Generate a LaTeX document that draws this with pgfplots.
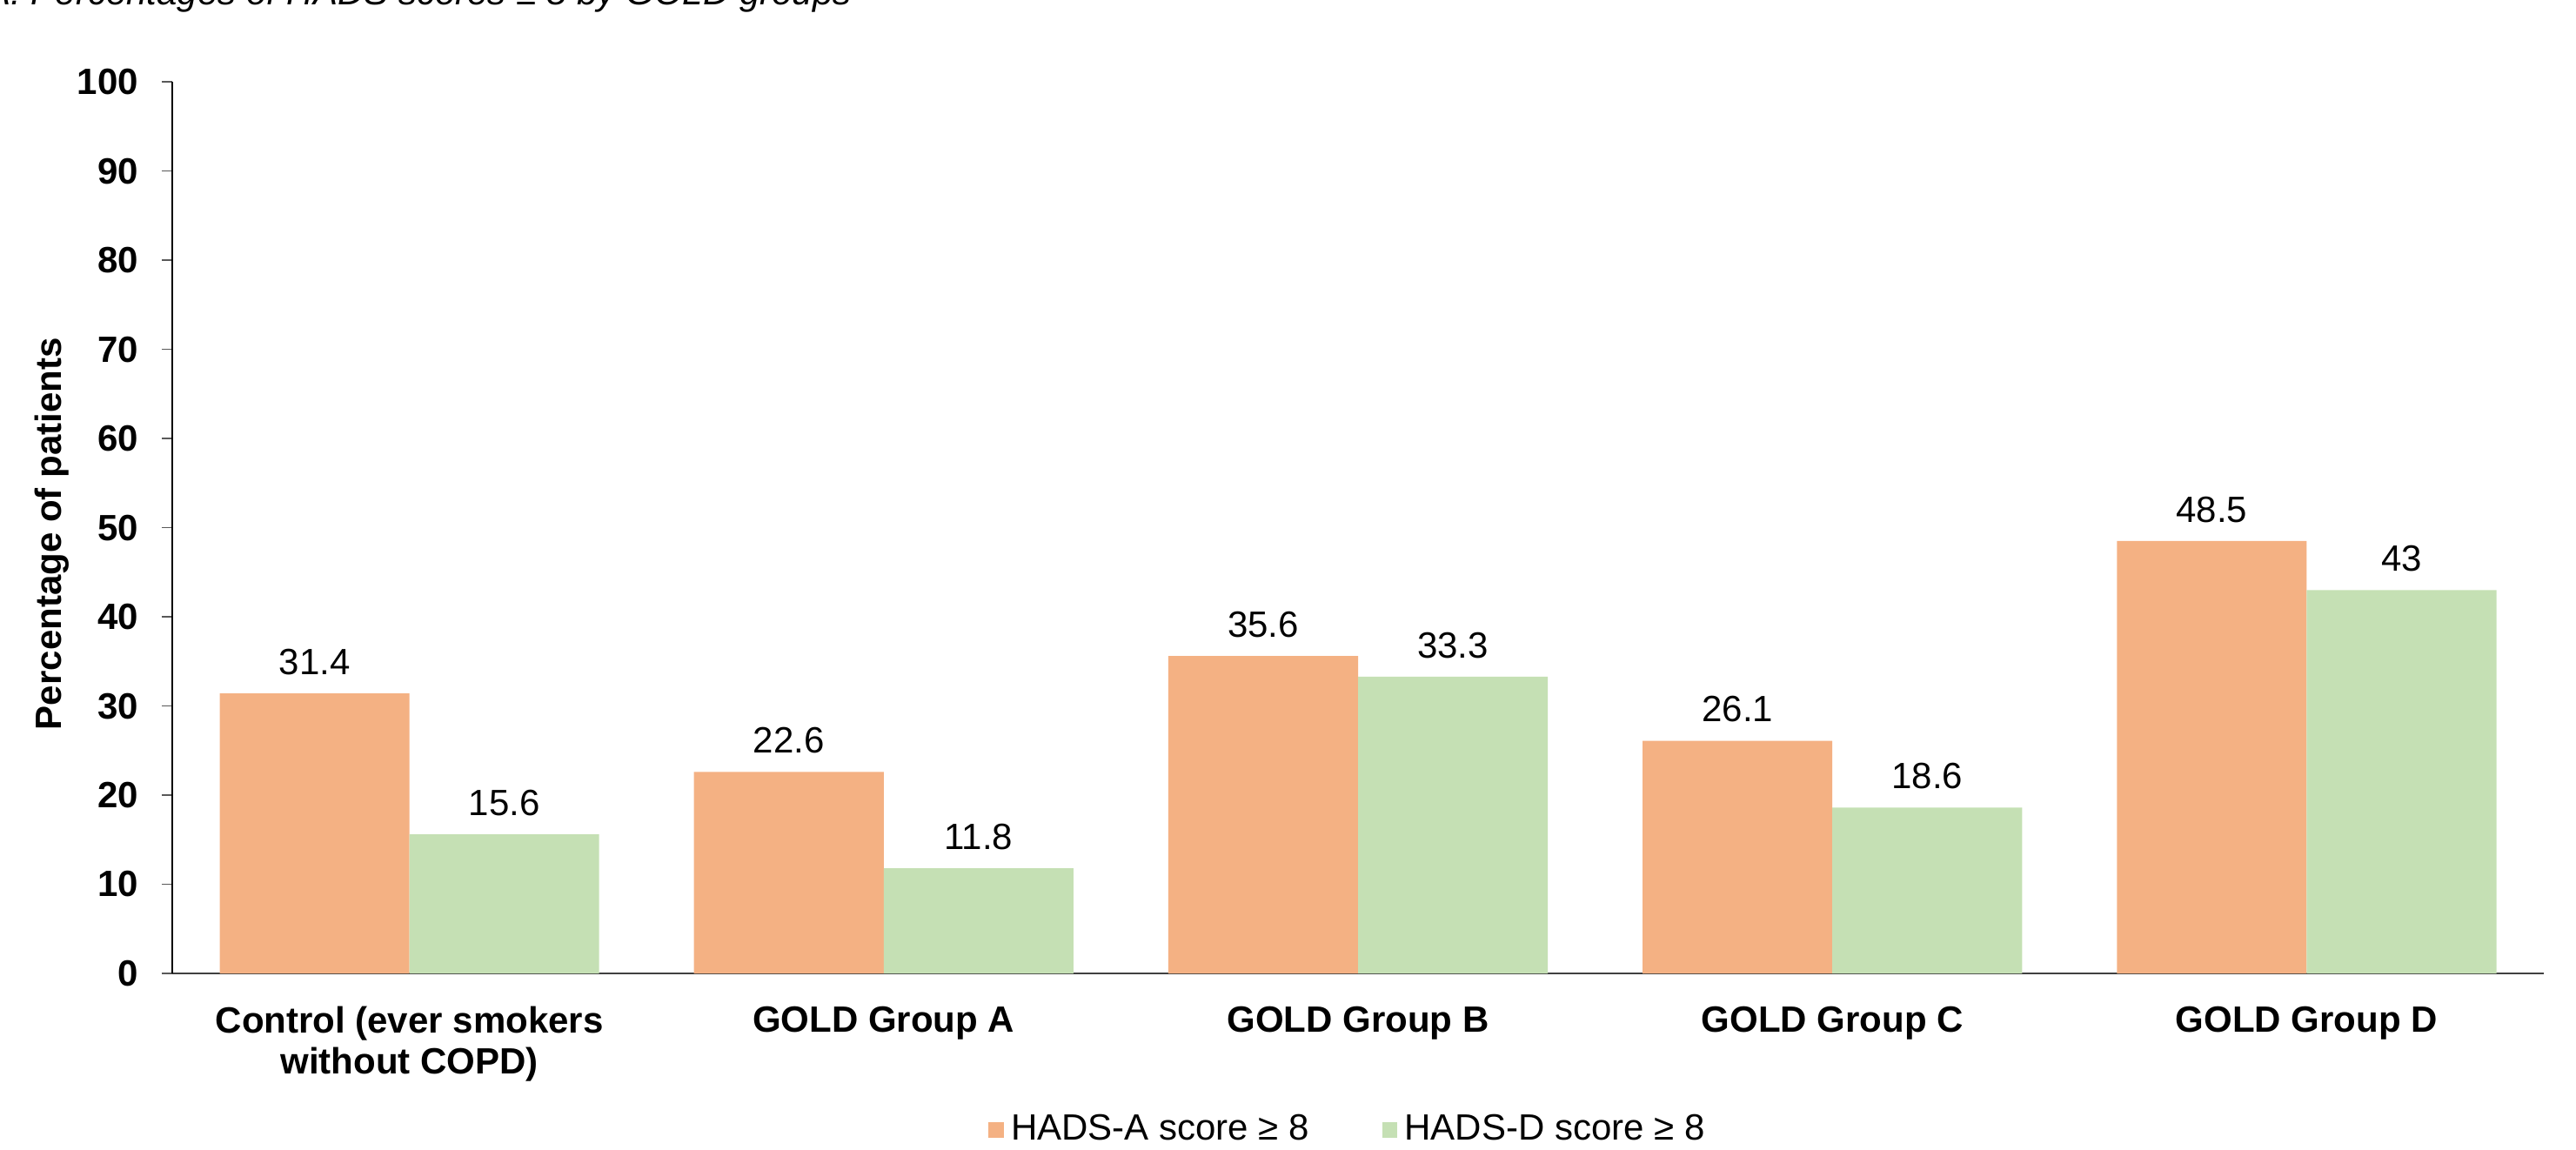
\documentclass[border=0pt]{standalone}
\usepackage{fontspec}
\setmainfont{Liberation Sans}
\usepackage{pgfplots}
\pgfplotsset{compat=1.18}
\definecolor{orA}{HTML}{F4B183}
\definecolor{grD}{HTML}{C5E0B4}
\pgfplotsset{sqlegend/.style={legend image code/.code={\fill[##1] (0pt,-2.2pt) rectangle (4.4pt,2.2pt);}}}
\begin{document}
\begin{tikzpicture}[x=1pt,y=1pt]
\begin{axis}[
  at={(49.5pt,50.5pt)}, anchor=south west,
  scale only axis, width=681.5pt, height=256.2pt,
  ybar=0pt, bar width=0.4,
  xmin=-0.5, xmax=4.5, ymin=0, ymax=100,
  xtick={0,1,2,3,4},
  xticklabels={{Control (ever smokers\\without COPD)}, GOLD Group A, GOLD Group B, GOLD Group C, GOLD Group D},
  ytick={0,10,...,100},
  axis x line*=bottom, axis y line*=left,
  x axis line style={line width=0.6pt, black!75},
  y axis line style={line width=0.4pt, black},
  tick align=outside, major tick length=3pt,
  xtick style={draw=none},
  ytick style={line width=0.4pt, black!65},
  /pgf/number format/assume math mode=true,
  every tick label/.append style={font=\fontsize{10.5}{11.8}\selectfont\bfseries},
  xticklabel style={align=center, yshift=-2.9pt},
  yticklabel style={xshift=-3.25pt},
  ylabel={Percentage of patients},
  ylabel style={at={(axis description cs:-0.0506,0.493)}, anchor=center, font=\fontsize{10.5}{12}\selectfont\bfseries},
  nodes near coords,
  every node near coord/.append style={font=\fontsize{10.5}{12}\selectfont, black, yshift=1.8pt},
  legend style={at={(0.4967,-0.1756)}, anchor=center, draw=none, legend columns=2,
    font=\fontsize{10.5}{12}\selectfont,
    /tikz/every even column/.append style={column sep=19pt}},
]
\addplot[fill=orA, draw=none, sqlegend] coordinates {(0,31.4) (1,22.6) (2,35.6) (3,26.1) (4,48.5)};
\addplot[fill=grD, draw=none, sqlegend] coordinates {(0,15.6) (1,11.8) (2,33.3) (3,18.6) (4,43)};
\legend{HADS-A score ≥ 8, HADS-D score ≥ 8}
\end{axis}
\node[anchor=base west, font=\fontsize{10.5}{12}\selectfont\itshape, inner sep=0pt] at (8.75pt,328.9pt) {\llap{A: }Percentages of HADS scores ≥ 8 by GOLD groups};
\pgfresetboundingbox
\useasboundingbox (0,0) rectangle (740.25pt,330.25pt);
\end{tikzpicture}
\end{document}
